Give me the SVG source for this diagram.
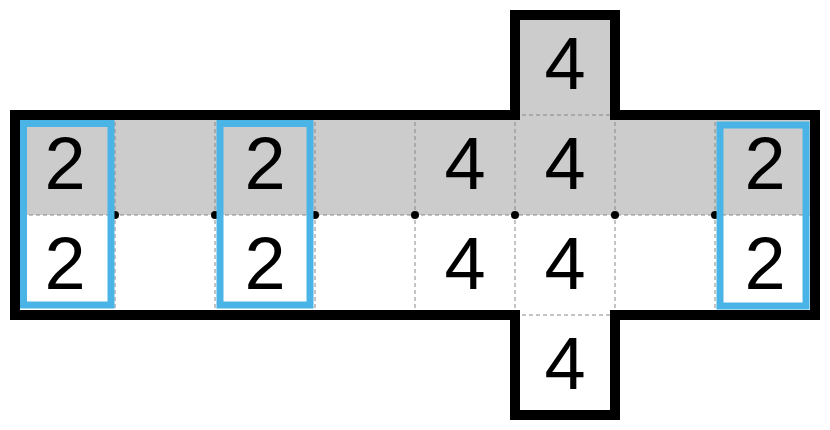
<svg xmlns="http://www.w3.org/2000/svg" width="830" height="430" viewBox="0 0 830 430">
<style>
.g{fill:#cccccc}
.d{stroke:#888;stroke-width:1;stroke-dasharray:4,3;fill:none}
.b{fill:none;stroke:#4ab4e6;stroke-width:7}
.t{font-family:"Liberation Sans",Arial,sans-serif;font-size:74px;text-anchor:middle;fill:#000}
</style>
<rect width="830" height="430" fill="#fff"/>
<g id="fill">
<rect class="g" x="515" y="15" width="100" height="100"/>
<rect class="g" x="15" y="115" width="800" height="100"/>
</g>
<g id="grid">
<path class="d" d="M115,115V315M215,115V315M315,115V315M415,115V315M515,115V415M615,115V415M715,115V315M15,215H815M515,115H615M515,315H615"/>
</g>
<g id="dots" fill="#000">
<circle cx="115" cy="215" r="4"/><circle cx="215" cy="215" r="4"/><circle cx="315" cy="215" r="4"/><circle cx="415" cy="215" r="4"/><circle cx="515" cy="215" r="4"/><circle cx="615" cy="215" r="4"/><circle cx="715" cy="215" r="4"/>
</g>
<g id="outline">
<path d="M515,15H615V115H815V315H615V415H515V315H15V115H515Z" fill="none" stroke="#000" stroke-width="10"/>
</g>
<g id="highlights">
<rect class="b" x="23.5" y="123.5" width="87.5" height="181.5"/>
<rect class="b" x="220" y="123.5" width="90" height="181.5"/>
<rect class="b" x="720" y="125" width="86" height="181"/>
</g>
<g id="numbers">
<text class="t" x="65" y="189">2</text>
<text class="t" x="265" y="189">2</text>
<text class="t" x="465" y="189">4</text>
<text class="t" x="565" y="189">4</text>
<text class="t" x="765" y="189">2</text>
<text class="t" x="565" y="89">4</text>
<text class="t" x="65" y="289">2</text>
<text class="t" x="265" y="289">2</text>
<text class="t" x="465" y="289">4</text>
<text class="t" x="565" y="289">4</text>
<text class="t" x="765" y="289">2</text>
<text class="t" x="565" y="389">4</text>
</g>
</svg>
